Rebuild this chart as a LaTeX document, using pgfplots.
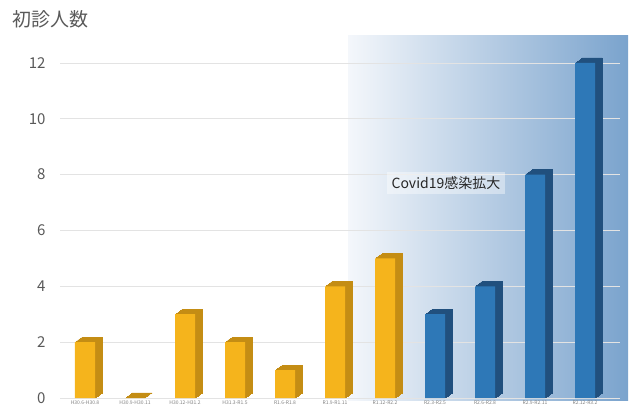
\documentclass[border=0pt]{standalone}
\usepackage{pgfplots}
\usepackage{pgfplotstable}
\pgfplotsset{compat=1.18}
\usepackage{fontspec}
\setmainfont{Noto Sans CJK JP}
\definecolor{goldfront}{HTML}{F5B41C}
\definecolor{goldside}{HTML}{C48D14}
\definecolor{bluefront}{HTML}{2E78B7}
\definecolor{blueside}{HTML}{21507E}
\definecolor{shadeL}{HTML}{F4F7FB}
\definecolor{shadeR}{HTML}{7AA3CD}
\definecolor{txtgray}{HTML}{595959}
\pgfplotstableread{
x y
0 2
1 0
2 3
3 2
4 1
5 4
6 5
}\gold
\pgfplotstableread{
x y
7 3
8 4
9 8
10 12
}\blue
\begin{document}
\begin{tikzpicture}
\path (-60pt,-18pt) rectangle (570pt,398pt);
\node[anchor=north west, text=txtgray, font=\fontsize{19}{19}\selectfont, inner sep=0pt] at (-48pt,388pt) {初診人数};
\begin{axis}[at={(0pt,0pt)}, anchor=south west, scale only axis,
  width=560pt, height=363pt,
  xmin=-0.5, xmax=10.7, ymin=0, ymax=13,
  ytick={0,2,...,12}, xtick={0,...,10},
  xticklabels={H30.6-H30.8,H30.9-H30.11,H30.12-H31.2,H31.3-R1.5,R1.6-R1.8,R1.9-R1.11,R1.12-R2.2,R2.3-R2.5,R2.6-R2.8,R2.9-R2.11,R2.12-R3.2},
  xticklabel style={font=\fontsize{5}{5}\selectfont, text=gray, yshift=1pt},
  yticklabel style={font=\fontsize{15}{15}\selectfont, text=txtgray, xshift=-11pt},
  /pgf/number format/assume math mode=true,
  ymajorgrids, grid style={draw=gray!22, line width=0.8pt},
  axis line style={draw=none}, major tick style={draw=none},
  clip=false, set layers]
\begin{pgfonlayer}{axis background}
\shade[left color=shadeL, right color=shadeR] (axis cs:5.26,-0.1) rectangle (axis cs:10.86,13);
\end{pgfonlayer}
% depth layers (staircase parallelogram)
\pgfplotsinvokeforeach{1,2,3,4,5,6,7}{
  \addplot[ybar, bar width=20pt, bar shift={#1pt}, yshift={0.72pt*#1}, fill=goldside, draw=goldside, line width=0.4pt] table[x=x,y=y] {\gold};
  \addplot[ybar, bar width=20pt, bar shift={#1pt}, yshift={0.72pt*#1}, fill=blueside, draw=blueside, line width=0.4pt] table[x=x,y=y] {\blue};
}
\addplot[ybar, bar width=20pt, bar shift=0pt, fill=goldfront, draw=none] table[x=x,y=y] {\gold};
\addplot[ybar, bar width=20pt, bar shift=0pt, fill=bluefront, draw=none] table[x=x,y=y] {\blue};
\node[fill=white, fill opacity=0.4, text opacity=1, text=black!85, font=\fontsize{14}{14}\selectfont, inner sep=5pt] at (axis cs:7.22,7.7) {Covid19感染拡大};
\end{axis}
\end{tikzpicture}
\end{document}
